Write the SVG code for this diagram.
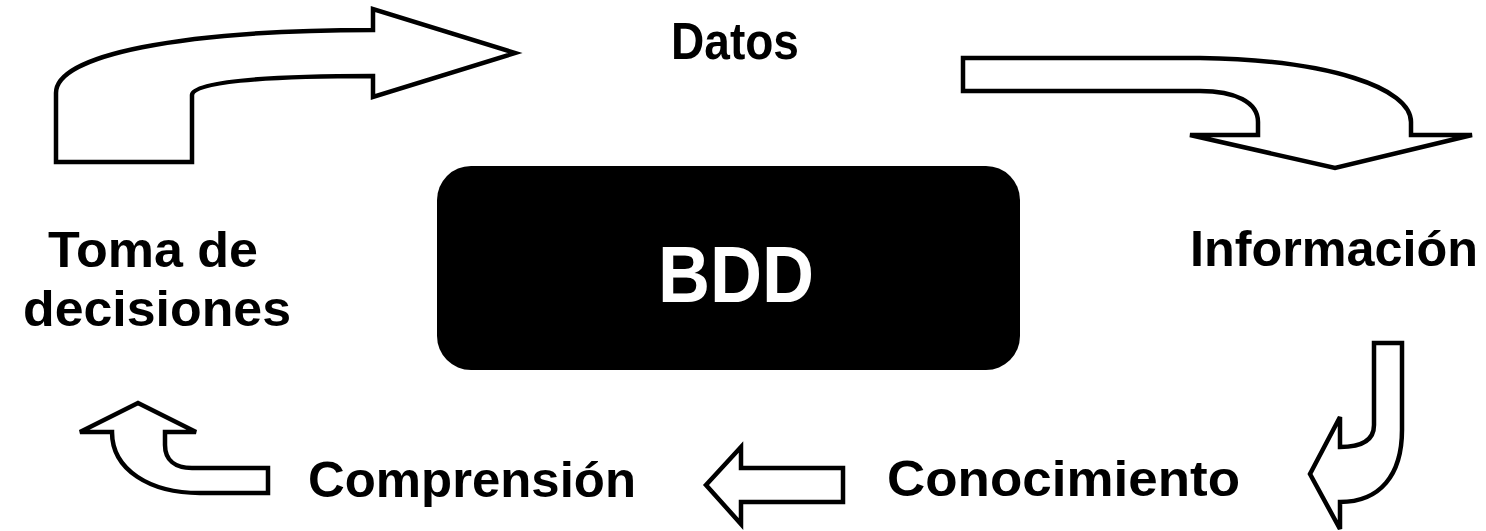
<svg xmlns="http://www.w3.org/2000/svg" width="1486" height="531" viewBox="0 0 1486 531">
  <style>
    .lbl { font-family: "Liberation Sans", "DejaVu Sans", sans-serif; font-weight: bold; font-size: 50px; fill: #000; }
    .arrow { fill: #fff; stroke: #000; stroke-width: 4.5; stroke-linejoin: miter; }
    .core { font-family: "Liberation Sans", "DejaVu Sans", sans-serif; font-weight: bold; font-size: 80px; fill: #fff; }
  </style>
  <rect width="1486" height="531" fill="#fff"/>

  <!-- cycle arrows -->
  <g id="connectors">
    <path class="arrow" d="M56,162 L56,93 C56,55 180,30 373,30 L373,9 L515,53 L373,97 L373,76 C260,76 192,82 192,95 L192,162 Z"/>
    <path class="arrow" d="M963,58 L1200,58 C1330,60 1411,88 1411,122 L1411,135 L1472,135 L1335,168 L1190,135 L1258,135 L1258,122 C1258,102 1235,91 1200,91 L963,91 Z"/>
    <path class="arrow" d="M1374,343 L1402,343 L1402,430 C1402,475 1380,502 1340,502 L1340,529 L1310,474 L1340,417 L1340,447 C1362,447 1374,440 1374,425 Z"/>
    <path class="arrow" d="M843,468 L843,502 L741,502 L741,524 L706,485 L741,447 L741,468 Z"/>
    <path class="arrow" d="M268,468 L268,493 L200,493 C150,493 112,470 112,432 L80,432 L138,403 L196,432 L165,432 L165,445 C165,460 175,468 192,468 Z"/>
  </g>

  <!-- central database block -->
  <g id="bdd">
    <rect x="437" y="166" width="583" height="204" rx="34" ry="34" fill="#000"/>
    <text class="core" x="658" y="302" textLength="156" lengthAdjust="spacingAndGlyphs">BDD</text>
  </g>

  <g id="datos">
    <text class="lbl" x="671" y="59" textLength="128" lengthAdjust="spacingAndGlyphs" style="font-size:52px">Datos</text>
  </g>

  <g id="informacion">
    <text class="lbl" x="1190" y="266" textLength="288" lengthAdjust="spacingAndGlyphs">Información</text>
  </g>

  <g id="conocimiento">
    <text class="lbl" x="887" y="496" textLength="353" lengthAdjust="spacingAndGlyphs">Conocimiento</text>
  </g>

  <g id="comprension">
    <text class="lbl" x="308" y="497" textLength="328" lengthAdjust="spacingAndGlyphs">Comprensión</text>
  </g>

  <g id="toma-decisiones">
    <text class="lbl" x="48" y="267" textLength="210" lengthAdjust="spacingAndGlyphs">Toma de</text>
    <text class="lbl" x="23" y="326" textLength="268" lengthAdjust="spacingAndGlyphs">decisiones</text>
  </g>
</svg>
